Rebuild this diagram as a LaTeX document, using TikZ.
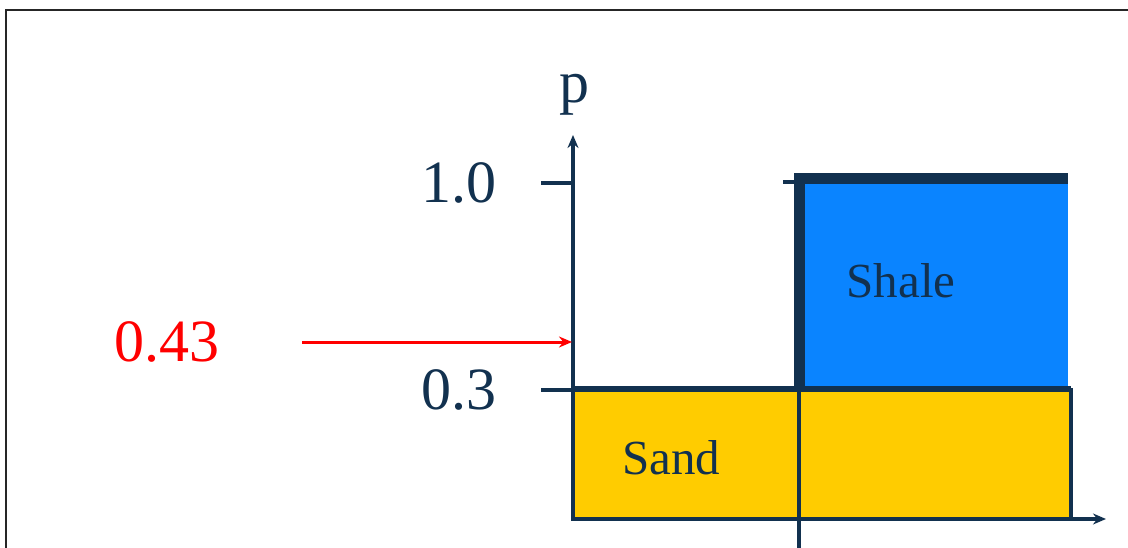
\documentclass[tikz,border=0pt]{standalone}
\usepackage{fontspec}
\setmainfont{Liberation Serif}
\usetikzlibrary{positioning,calc,arrows.meta}
\definecolor{axisnavy}{HTML}{12314F}
\definecolor{shaleblue}{HTML}{0A84FF}
\definecolor{sandyellow}{HTML}{FFCC00}
\definecolor{cutred}{HTML}{FF0000}

\begin{document}
\begin{tikzpicture}[x=1pt, y=-1pt,
  axisline/.style={axisnavy, line width=3.5pt},
  axarrow/.style={axisline, -{Stealth[length=13pt, width=11pt]}},
  edgeline/.style={axisnavy, line width=11pt},
  ticklabel/.style={font=\fontsize{60}{66}\selectfont, text=axisnavy, inner sep=0pt},
  facieslabel/.style={font=\fontsize{49}{54}\selectfont, text=axisnavy, inner sep=0pt},
  cutarrow/.style={cutred, line width=3pt, -{Stealth[length=13pt, width=11pt]}},
]
\useasboundingbox (0,0) rectangle (1128,548);
% Frame (only top and left edges inside the page)
\draw[black!85, line width=2pt] (6,10) rectangle (1150,570);

% Key points of the plot
\coordinate (origin) at (573,519);
\coordinate (ytip)   at (573,135);
\coordinate (xtip)   at (1106,519);
\coordinate (tickA)  at (541,183);
\coordinate (tickAr) at (573,183);
\coordinate (tickB)  at (541,390);
\coordinate (tickBr) at (573,390);
\coordinate (split)  at (799,390);
\coordinate (splitb) at (799,560);

% Facies boxes
\fill[sandyellow] (573,390) rectangle (1071,519);
\fill[shaleblue]  (799,180) rectangle (1068,390);
\draw[axisline] (573,390) rectangle (1071,519);
\draw[axisnavy, line width=6pt] (573,389) -- (1071,389);
\draw[edgeline] (799,390) -- (799,179) -- (1068,179);
\draw[axisline] (783,182) -- (799,182);
\draw[axisline] (split) -- (splitb);

\node[facieslabel] (shale) at (901,281) {Shale};
\node[facieslabel] (sand)  at (671,458) {Sand};

% Axes and ticks
\draw[axarrow] (origin) -- (ytip);
\draw[axarrow] (origin) -- (xtip);
\draw[axisline] (tickA) -- (tickAr);
\draw[axisline] (tickB) -- (tickBr);

\node[ticklabel, anchor=base] (plab) at (574,103) {p};
\node[ticklabel, left=44pt of tickA] (one)   {1.0};
\node[ticklabel, left=44pt of tickB] (three) {0.3};

% Cut-off value
\node[ticklabel, text=cutred] (cut) at (167,342) {0.43};
\coordinate (cutend) at (572,342);
\draw[cutarrow] (302,342) -- (cutend);
\end{tikzpicture}
\end{document}
